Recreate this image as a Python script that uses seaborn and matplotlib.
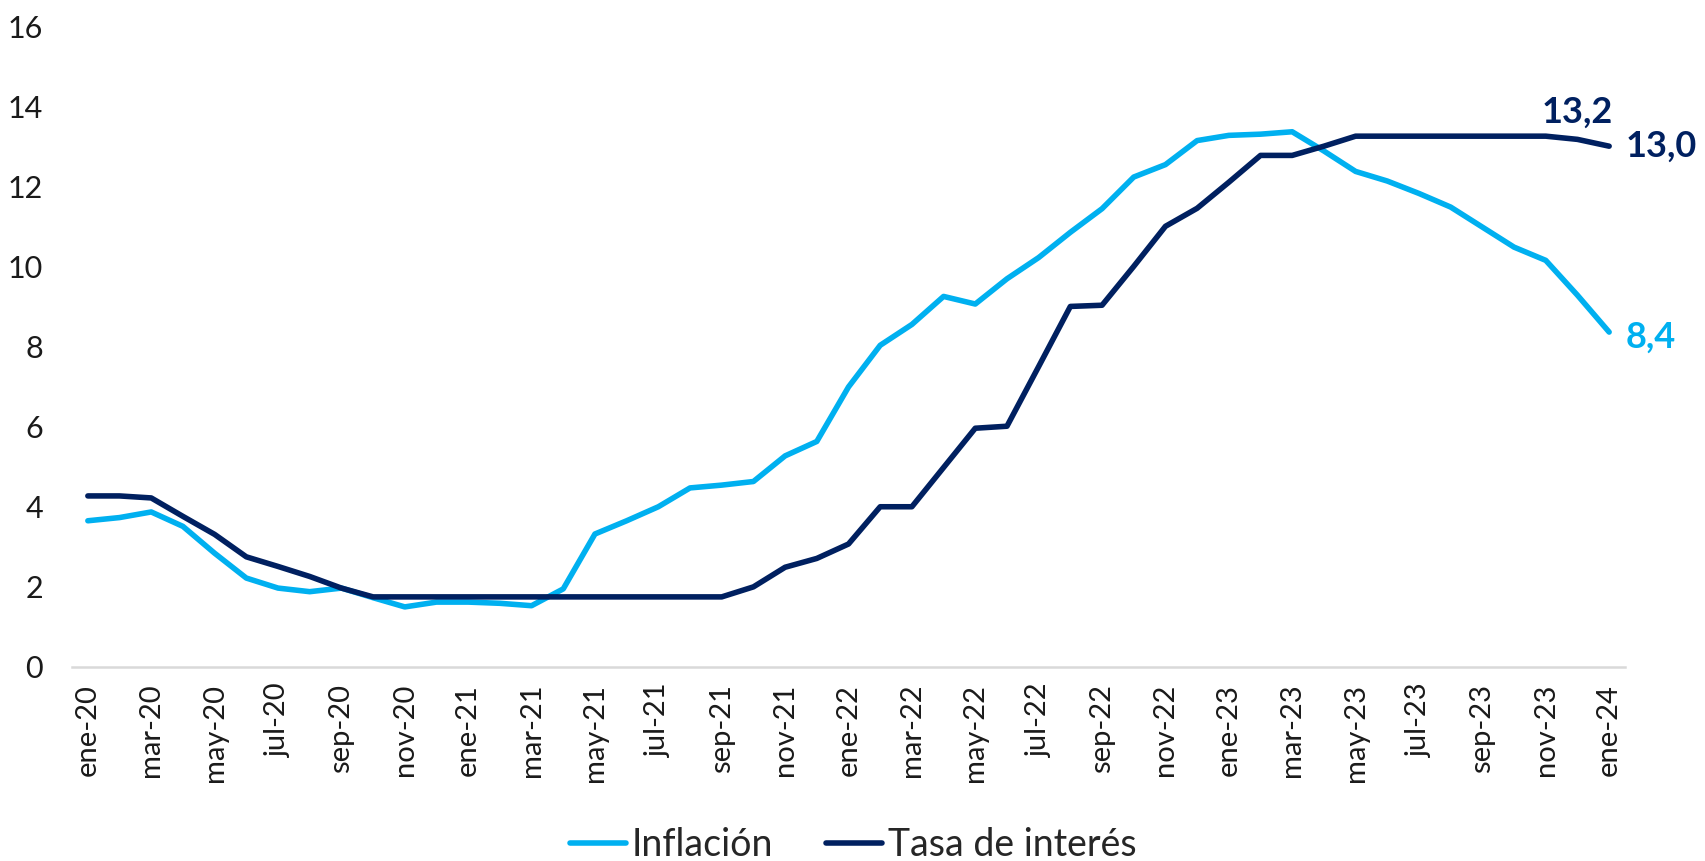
import matplotlib
matplotlib.use("Agg")
import matplotlib.pyplot as plt
import seaborn as sns
import pandas as pd
import numpy as np

meses = ["ene", "feb", "mar", "abr", "may", "jun", "jul", "ago", "sep", "oct", "nov", "dic"]
periodos = [f"{meses[m]}-{y}" for y in range(20, 24) for m in range(12)] + ["ene-24"]

inflacion = [3.65, 3.73, 3.87, 3.51, 2.84, 2.22, 1.97, 1.88, 1.97, 1.73, 1.50, 1.62,
             1.62, 1.59, 1.53, 1.95, 3.32, 3.65, 4.00, 4.47, 4.54, 4.63, 5.27, 5.63,
             6.99, 8.03, 8.55, 9.25, 9.06, 9.69, 10.22, 10.85, 11.44, 12.23, 12.54, 13.14,
             13.27, 13.30, 13.36, 12.88, 12.37, 12.13, 11.82, 11.48, 10.98, 10.48, 10.15, 9.28,
             8.36]
tasa = [4.27, 4.27, 4.22, 3.76, 3.31, 2.75, 2.51, 2.26, 1.97, 1.75, 1.75, 1.75,
        1.75, 1.75, 1.75, 1.75, 1.75, 1.75, 1.75, 1.75, 1.75, 2.00, 2.49, 2.71,
        3.07, 4.00, 4.00, 4.98, 5.96, 6.01, 7.50, 9.00, 9.03, 10.00, 11.00, 11.45,
        12.10, 12.77, 12.77, 13.00, 13.25, 13.25, 13.25, 13.25, 13.25, 13.25, 13.25, 13.17,
        13.00]
series = ["Inflación", "Tasa de interés"]
colores = ["#00B0F0", "#002060"]
yticks = [0, 2, 4, 6, 8, 10, 12, 14, 16]

sns.set_theme(style="white")
plt.rcParams["font.family"] = ["Lato", "DejaVu Sans"]
plt.rcParams["lines.solid_capstyle"] = "round"

df = pd.DataFrame({
    "i": list(range(len(periodos))) * 2,
    "valor": inflacion + tasa,
    "serie": [series[0]] * len(inflacion) + [series[1]] * len(tasa),
})

W, H = 1706, 861
fig = plt.figure(figsize=(W / 100, H / 100), dpi=100)
ax = fig.add_axes([72 / W, 1 - 667 / H, (1625 - 72) / W, (667 - 26) / H])

sns.lineplot(data=df, x="i", y="valor", hue="serie", palette=dict(zip(series, colores)),
             linewidth=4, ax=ax)

ax.set_xlim(-0.5, len(periodos) - 0.5)
ax.set_ylim(0, 16)
ax.set_xlabel("")
ax.set_ylabel("")

for s in ["top", "right", "left"]:
    ax.spines[s].set_visible(False)
ax.spines["bottom"].set_color("#D9D9D9")
ax.spines["bottom"].set_linewidth(1.8)

ax.set_xticks(range(0, len(periodos), 2))
ax.set_xticklabels(periodos[::2], rotation=90, fontsize=21, color="#1a1a1a")
ax.set_xticks(np.arange(-0.5, len(periodos) - 1, 2), minor=True)
ax.tick_params(axis="x", which="major", length=0, pad=12)
ax.tick_params(axis="x", which="minor", length=7, width=1.5, color="#D9D9D9", direction="out")

ax.set_yticks(yticks)
ax.set_yticklabels([str(v) for v in yticks], fontsize=22, color="#1a1a1a")
ax.tick_params(axis="y", length=0, pad=21)

def fmt(v):
    return f"{v:.1f}".replace(".", ",")

n = len(periodos) - 1
ax.annotate(fmt(tasa[n - 1]), xy=(n - 1, tasa[n - 1]), xytext=(0, 12), textcoords="offset points",
            ha="center", va="baseline", fontsize=26, fontweight="bold", color=colores[1])
ax.annotate(fmt(tasa[n]), xy=(n, tasa[n]), xytext=(12, 0), textcoords="offset points",
            ha="left", va="center", fontsize=26, fontweight="bold", color=colores[1],
            annotation_clip=False)
ax.annotate(fmt(inflacion[n]), xy=(n, inflacion[n]), xytext=(12, -4), textcoords="offset points",
            ha="left", va="center", fontsize=26, fontweight="bold", color=colores[0],
            annotation_clip=False)

sns.move_legend(ax, "center", bbox_to_anchor=((853 - 72) / 1553, (667 - 845) / 641),
                ncol=2, frameon=False, title=None, fontsize=27,
                handlelength=1.5, handletextpad=0.15, columnspacing=1.4)
for line in ax.get_legend().get_lines():
    line.set_linewidth(4)

fig.savefig("out.png", dpi=100)
